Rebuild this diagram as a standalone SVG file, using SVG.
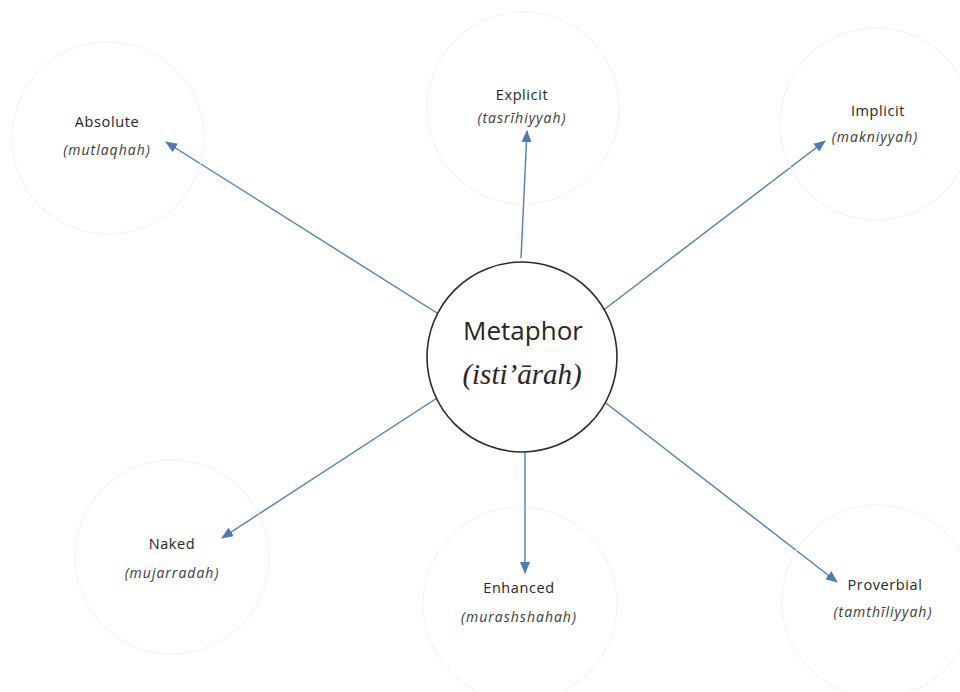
<svg xmlns="http://www.w3.org/2000/svg" width="960" height="692" viewBox="0 0 960 692">
  <style>
    .ring { fill: none; stroke: #ececec; stroke-width: 1.2; stroke-dasharray: 2 1.5; }
    .hub { fill: #ffffff; stroke: #2b2b2b; stroke-width: 1.6; }
    .name { font-family: "Open Sans", "Liberation Sans", sans-serif; font-size: 14.5px; letter-spacing: 0.6px; fill: #262626; text-anchor: middle; }
    .term { font-family: "Open Sans", "Liberation Sans", sans-serif; font-size: 14px; letter-spacing: 1px; font-style: italic; fill: #3a3a3a; text-anchor: middle; }
    .hub-name { font-family: "Open Sans", "Liberation Sans", sans-serif; font-size: 26px; fill: #262626; text-anchor: middle; }
    .hub-term { font-family: "Liberation Serif", "DejaVu Serif", serif; font-size: 29px; font-style: italic; fill: #262626; text-anchor: middle; }
    .link { stroke: #4f7fba; stroke-width: 1.4; fill: none; marker-end: url(#head); }
  </style>
  <defs>
    <marker id="head" viewBox="0 0 12 10" refX="11" refY="5" markerWidth="12" markerHeight="10" markerUnits="userSpaceOnUse" orient="auto">
      <path d="M0,0 L12,5 L0,10 Z" fill="#4a7cbb"/>
    </marker>
  </defs>
  <rect width="960" height="692" fill="#ffffff"/>

  <!-- connectors from the hub to each category -->
  <g id="connectors">
    <line class="link" x1="437" y1="313" x2="166" y2="142"/>
    <line class="link" x1="521" y1="258" x2="527" y2="131"/>
    <line class="link" x1="601" y1="312" x2="825" y2="141"/>
    <line class="link" x1="437" y1="398" x2="222" y2="538"/>
    <line class="link" x1="525" y1="447" x2="525" y2="573"/>
    <line class="link" x1="602" y1="400" x2="837" y2="582"/>
  </g>

  <g id="absolute">
    <circle class="ring" cx="108" cy="138" r="96"/>
    <text class="name" x="107" y="127">Absolute</text>
    <text class="term" x="107" y="155">(mutlaqhah)</text>
  </g>

  <g id="explicit">
    <circle class="ring" cx="523" cy="108" r="96"/>
    <text class="name" x="522" y="100">Explicit</text>
    <text class="term" x="522" y="123">(tasrīhiyyah)</text>
  </g>

  <g id="implicit">
    <circle class="ring" cx="876" cy="124" r="96"/>
    <text class="name" x="878" y="116">Implicit</text>
    <text class="term" x="875" y="142">(makniyyah)</text>
  </g>

  <g id="naked">
    <circle class="ring" cx="172" cy="557" r="97"/>
    <text class="name" x="172" y="549">Naked</text>
    <text class="term" x="172" y="578">(mujarradah)</text>
  </g>

  <g id="enhanced">
    <circle class="ring" cx="520" cy="604" r="97"/>
    <text class="name" x="519" y="593">Enhanced</text>
    <text class="term" x="519" y="622">(murashshahah)</text>
  </g>

  <g id="proverbial">
    <circle class="ring" cx="878" cy="601" r="96"/>
    <text class="name" x="885" y="590">Proverbial</text>
    <text class="term" x="883" y="617">(tamthīliyyah)</text>
  </g>

  <g id="metaphor">
    <circle class="hub" cx="522" cy="357" r="95"/>
    <text class="hub-name" x="523" y="340">Metaphor</text>
    <text class="hub-term" x="522" y="384">(isti’ārah)</text>
  </g>
</svg>
